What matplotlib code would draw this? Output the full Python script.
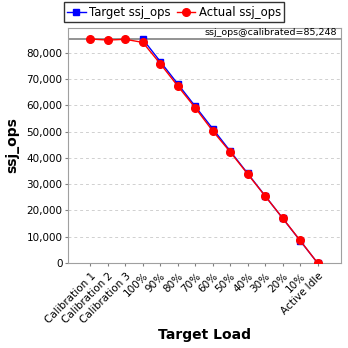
import numpy as np
import matplotlib.pyplot as plt
from matplotlib.ticker import FuncFormatter

loads = ["Calibration 1", "Calibration 2", "Calibration 3", "100%", "90%", "80%",
         "70%", "60%", "50%", "40%", "30%", "20%", "10%", "Active Idle"]
target_ops = [np.nan, np.nan, np.nan, 85248, 76723, 68198, 59674, 51149,
              42624, 34099, 25574, 17050, 8525, 0]
actual_ops = [85300, 84900, 85200, 84000, 75900, 67400, 59100, 50300,
              42300, 33900, 25500, 17100, 8600, 0]
calibrated = 85248

fig = plt.figure(figsize=(3.48, 3.48), dpi=100)
ax = fig.add_axes([68 / 348, 1 - 263 / 348, (341 - 68) / 348, (263 - 28) / 348])

x = np.arange(len(loads))
ax.plot(x, target_ops, color="#0000ff", marker="s", markersize=5, lw=1.0,
        label="Target ssj_ops", zorder=3)
ax.plot(x, actual_ops, color="#ff0000", marker="o", markersize=5.5, lw=1.0,
        label="Actual ssj_ops", zorder=4)

# calibrated throughput marker line with its label
ax.axhline(calibrated, color="#808080", lw=1.2, zorder=2)
ax.text(0.985, calibrated + 700, f"ssj_ops@calibrated={calibrated:,}",
        transform=ax.get_yaxis_transform(), ha="right", va="bottom", fontsize=6.8)

ax.set_xlim(-1.28, len(loads) - 1 + 1.34)
ax.set_ylim(0, 89500)
ax.set_yticks(range(0, 90000, 10000))
ax.yaxis.set_major_formatter(FuncFormatter(lambda v, p: f"{int(v):,}"))
ax.grid(axis="y", color="#d0d0d0", ls=(0, (3, 3)), lw=0.7)
ax.set_axisbelow(True)
ax.set_xticks(x)
ax.set_xticklabels(loads, rotation=45, ha="right", rotation_mode="anchor", fontsize=7.5)
ax.tick_params(axis="y", labelsize=7.5, length=2, pad=2, color="#808080")
ax.tick_params(axis="x", length=2, color="#808080")
for s in ax.spines.values():
    s.set_color("#a0a0a0")

ax.set_ylabel("ssj_ops", fontsize=10, fontweight="bold", labelpad=5)
ax.set_xlabel("Target Load", fontsize=10, fontweight="bold", labelpad=2)

fig.legend(loc="upper center", bbox_to_anchor=(174 / 348, 1.0), ncol=2, fontsize=8.4,
           frameon=True, fancybox=False, edgecolor="black", borderpad=0.3,
           handlelength=1.6, handletextpad=0.3, columnspacing=0.5,
           borderaxespad=0.2)

fig.savefig("out.png", dpi=100)
